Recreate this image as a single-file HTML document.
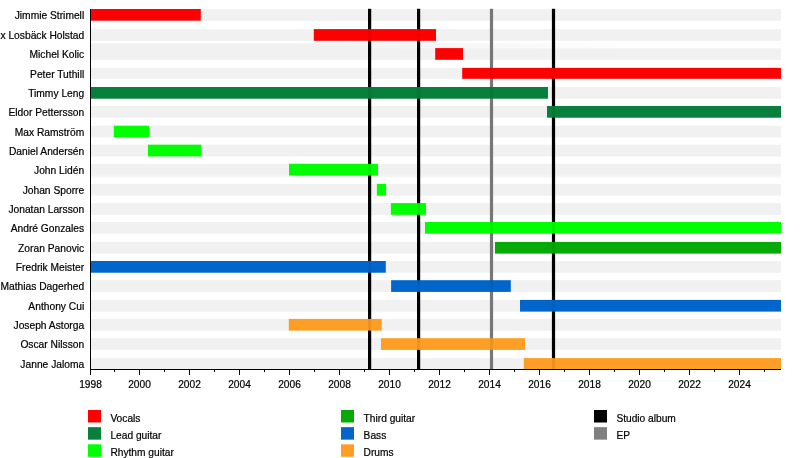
<!DOCTYPE html><html><head><meta charset="utf-8"><title>Timeline</title><style>html,body{margin:0;padding:0;background:#fff;overflow:hidden}svg{display:block}text{font-family:"Liberation Sans",Arial,sans-serif;font-size:10.2px;fill:#000;stroke:#000;stroke-width:0.2px}</style></head><body>
<svg width="800" height="458" viewBox="0 0 800 458">
<rect width="800" height="458" fill="#fff"/>
<rect x="91" y="9.00" width="690.00" height="11.70" fill="#f1f1f1"/>
<rect x="91" y="29.10" width="690.00" height="11.70" fill="#f1f1f1"/>
<rect x="91" y="48.10" width="690.00" height="11.70" fill="#f1f1f1"/>
<rect x="91" y="67.90" width="690.00" height="10.90" fill="#f1f1f1"/>
<rect x="91" y="87.00" width="690.00" height="11.70" fill="#f1f1f1"/>
<rect x="91" y="106.00" width="690.00" height="11.70" fill="#f1f1f1"/>
<rect x="91" y="125.70" width="690.00" height="11.70" fill="#f1f1f1"/>
<rect x="91" y="144.70" width="690.00" height="11.70" fill="#f1f1f1"/>
<rect x="91" y="163.80" width="690.00" height="11.70" fill="#f1f1f1"/>
<rect x="91" y="183.90" width="690.00" height="11.70" fill="#f1f1f1"/>
<rect x="91" y="203.10" width="690.00" height="11.70" fill="#f1f1f1"/>
<rect x="91" y="222.00" width="690.00" height="11.70" fill="#f1f1f1"/>
<rect x="91" y="241.90" width="690.00" height="11.70" fill="#f1f1f1"/>
<rect x="91" y="261.00" width="690.00" height="11.70" fill="#f1f1f1"/>
<rect x="91" y="280.20" width="690.00" height="11.70" fill="#f1f1f1"/>
<rect x="91" y="299.90" width="690.00" height="11.70" fill="#f1f1f1"/>
<rect x="91" y="318.90" width="690.00" height="11.70" fill="#f1f1f1"/>
<rect x="91" y="338.20" width="690.00" height="11.70" fill="#f1f1f1"/>
<rect x="91" y="358.10" width="690.00" height="11.40" fill="#f1f1f1"/>
<defs><linearGradient id="g9" x1="0" y1="0" x2="0" y2="1"><stop offset="0" stop-color="#f1f1f1"/><stop offset="1" stop-color="#ffffff"/></linearGradient><linearGradient id="g3" x1="0" y1="0" x2="1" y2="0"><stop offset="0" stop-color="#f1f1f1"/><stop offset="0.35" stop-color="#f1f1f1"/><stop offset="0.8" stop-color="#ffffff"/><stop offset="1" stop-color="#ffffff"/></linearGradient></defs>
<rect x="91" y="43.3" width="690" height="5" fill="url(#g3)"/>
<rect x="91" y="175.3" width="690" height="3.6" fill="url(#g9)"/>
<rect x="368.00" y="8.8" width="3.2" height="360.7" fill="#000"/>
<rect x="417.00" y="8.8" width="3.2" height="360.7" fill="#000"/>
<rect x="489.90" y="8.8" width="3.2" height="360.7" fill="#808080"/>
<rect x="551.90" y="8.8" width="3.2" height="360.7" fill="#000"/>
<rect x="90.50" y="9.00" width="110.30" height="11.7" fill="#ff0000"/>
<rect x="313.80" y="29.10" width="122.20" height="11.7" fill="#ff0000"/>
<rect x="435.20" y="48.10" width="27.80" height="11.7" fill="#ff0000"/>
<rect x="462.20" y="67.90" width="318.80" height="10.9" fill="#ff0000"/>
<rect x="90.50" y="87.00" width="457.50" height="11.7" fill="#06803c"/>
<rect x="547.00" y="106.00" width="234.00" height="11.7" fill="#06803c"/>
<rect x="113.80" y="125.70" width="35.40" height="11.7" fill="#00ff00"/>
<rect x="148.00" y="144.70" width="53.20" height="11.7" fill="#00ff00"/>
<rect x="289.00" y="163.80" width="89.00" height="11.7" fill="#00ff00"/>
<rect x="376.90" y="183.90" width="9.20" height="11.7" fill="#00ff00"/>
<rect x="390.90" y="203.10" width="35.10" height="11.7" fill="#00ff00"/>
<rect x="425.00" y="222.00" width="356.00" height="11.7" fill="#00ff00"/>
<rect x="495.00" y="241.90" width="286.00" height="11.7" fill="#06aa06"/>
<rect x="90.50" y="261.00" width="295.30" height="11.7" fill="#0066cc"/>
<rect x="391.10" y="280.20" width="119.70" height="11.7" fill="#0066cc"/>
<rect x="520.00" y="299.90" width="261.00" height="11.7" fill="#0066cc"/>
<rect x="288.80" y="318.90" width="92.90" height="11.7" fill="#ff9e24"/>
<rect x="381.00" y="338.20" width="144.00" height="11.7" fill="#ff9e24"/>
<rect x="523.80" y="358.10" width="257.20" height="11.4" fill="#ff9e24"/>
<rect x="368.00" y="8.8" width="3.2" height="360.7" fill="#000" opacity="0.07"/>
<rect x="417.00" y="8.8" width="3.2" height="360.7" fill="#000" opacity="0.07"/>
<rect x="489.90" y="8.8" width="3.2" height="360.7" fill="#000" opacity="0.07"/>
<rect x="551.90" y="8.8" width="3.2" height="360.7" fill="#000" opacity="0.07"/>
<rect x="90" y="9" width="1" height="361" fill="#000"/>
<rect x="90" y="369" width="691.00" height="1" fill="#000"/>
<rect x="90.00" y="369" width="1" height="6" fill="#000"/>
<text x="90.50" y="387.8" text-anchor="middle">1998</text>
<rect x="114.00" y="369" width="1" height="3" fill="#000"/>
<rect x="139.00" y="369" width="1" height="6" fill="#000"/>
<text x="139.50" y="387.8" text-anchor="middle">2000</text>
<rect x="164.00" y="369" width="1" height="3" fill="#000"/>
<rect x="189.00" y="369" width="1" height="6" fill="#000"/>
<text x="189.50" y="387.8" text-anchor="middle">2002</text>
<rect x="214.00" y="369" width="1" height="3" fill="#000"/>
<rect x="239.00" y="369" width="1" height="6" fill="#000"/>
<text x="239.50" y="387.8" text-anchor="middle">2004</text>
<rect x="264.00" y="369" width="1" height="3" fill="#000"/>
<rect x="289.00" y="369" width="1" height="6" fill="#000"/>
<text x="289.50" y="387.8" text-anchor="middle">2006</text>
<rect x="314.00" y="369" width="1" height="3" fill="#000"/>
<rect x="339.00" y="369" width="1" height="6" fill="#000"/>
<text x="339.50" y="387.8" text-anchor="middle">2008</text>
<rect x="364.00" y="369" width="1" height="3" fill="#000"/>
<rect x="389.00" y="369" width="1" height="6" fill="#000"/>
<text x="389.50" y="387.8" text-anchor="middle">2010</text>
<rect x="414.00" y="369" width="1" height="3" fill="#000"/>
<rect x="439.00" y="369" width="1" height="6" fill="#000"/>
<text x="439.50" y="387.8" text-anchor="middle">2012</text>
<rect x="464.00" y="369" width="1" height="3" fill="#000"/>
<rect x="489.00" y="369" width="1" height="6" fill="#000"/>
<text x="489.50" y="387.8" text-anchor="middle">2014</text>
<rect x="514.00" y="369" width="1" height="3" fill="#000"/>
<rect x="539.00" y="369" width="1" height="6" fill="#000"/>
<text x="539.50" y="387.8" text-anchor="middle">2016</text>
<rect x="564.00" y="369" width="1" height="3" fill="#000"/>
<rect x="589.00" y="369" width="1" height="6" fill="#000"/>
<text x="589.50" y="387.8" text-anchor="middle">2018</text>
<rect x="614.00" y="369" width="1" height="3" fill="#000"/>
<rect x="639.00" y="369" width="1" height="6" fill="#000"/>
<text x="639.50" y="387.8" text-anchor="middle">2020</text>
<rect x="664.00" y="369" width="1" height="3" fill="#000"/>
<rect x="689.00" y="369" width="1" height="6" fill="#000"/>
<text x="689.50" y="387.8" text-anchor="middle">2022</text>
<rect x="714.00" y="369" width="1" height="3" fill="#000"/>
<rect x="739.00" y="369" width="1" height="6" fill="#000"/>
<text x="739.50" y="387.8" text-anchor="middle">2024</text>
<rect x="764.00" y="369" width="1" height="3" fill="#000"/>
<text x="84.2" y="19.20" text-anchor="end" style="font-size:10.25px">Jimmie Strimell</text>
<text x="84.2" y="39.30" text-anchor="end" style="font-size:10.25px">Alex Losbäck Holstad</text>
<text x="84.2" y="58.30" text-anchor="end" style="font-size:10.25px">Michel Kolic</text>
<text x="84.2" y="78.10" text-anchor="end" style="font-size:10.25px">Peter Tuthill</text>
<text x="84.2" y="97.20" text-anchor="end" style="font-size:10.25px">Timmy Leng</text>
<text x="84.2" y="116.20" text-anchor="end" style="font-size:10.25px">Eldor Pettersson</text>
<text x="84.2" y="135.90" text-anchor="end" style="font-size:10.25px">Max Ramström</text>
<text x="84.2" y="154.90" text-anchor="end" style="font-size:10.25px">Daniel Andersén</text>
<text x="84.2" y="174.00" text-anchor="end" style="font-size:10.25px">John Lidén</text>
<text x="84.2" y="194.10" text-anchor="end" style="font-size:10.25px">Johan Sporre</text>
<text x="84.2" y="213.30" text-anchor="end" style="font-size:10.25px">Jonatan Larsson</text>
<text x="84.2" y="232.20" text-anchor="end" style="font-size:10.25px">André Gonzales</text>
<text x="84.2" y="252.10" text-anchor="end" style="font-size:10.25px">Zoran Panovic</text>
<text x="84.2" y="271.20" text-anchor="end" style="font-size:10.25px">Fredrik Meister</text>
<text x="84.2" y="290.40" text-anchor="end" style="font-size:10.25px">Mathias Dagerhed</text>
<text x="84.2" y="310.10" text-anchor="end" style="font-size:10.25px">Anthony Cui</text>
<text x="84.2" y="329.10" text-anchor="end" style="font-size:10.25px">Joseph Astorga</text>
<text x="84.2" y="348.40" text-anchor="end" style="font-size:10.25px">Oscar Nilsson</text>
<text x="84.2" y="368.30" text-anchor="end" style="font-size:10.25px">Janne Jaloma</text>
<rect x="88" y="410.00" width="13" height="12.5" fill="#ff0000"/>
<text x="110.4" y="421.60">Vocals</text>
<rect x="88" y="427.15" width="13" height="12.5" fill="#06803c"/>
<text x="110.4" y="438.75">Lead guitar</text>
<rect x="88" y="444.30" width="13" height="12.5" fill="#00ff00"/>
<text x="110.4" y="455.90">Rhythm guitar</text>
<rect x="341" y="410.00" width="13" height="12.5" fill="#06aa06"/>
<text x="363.6" y="421.60">Third guitar</text>
<rect x="341" y="427.15" width="13" height="12.5" fill="#0066cc"/>
<text x="363.6" y="438.75">Bass</text>
<rect x="341" y="444.30" width="13" height="12.5" fill="#ff9e24"/>
<text x="363.6" y="455.90">Drums</text>
<rect x="594" y="410.00" width="13" height="12.5" fill="#000"/>
<text x="616.4" y="421.60">Studio album</text>
<rect x="594" y="427.15" width="13" height="12.5" fill="#808080"/>
<text x="616.4" y="438.75">EP</text>
</svg></body></html>
